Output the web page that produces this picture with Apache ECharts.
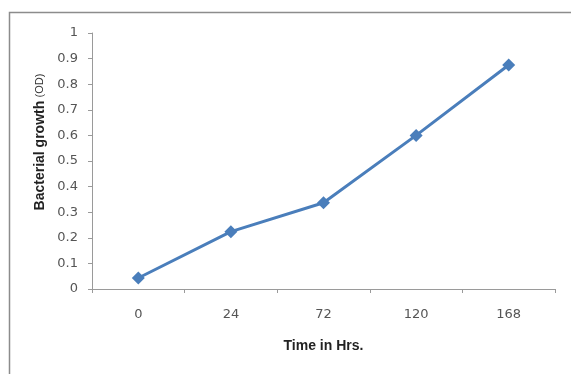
<!DOCTYPE html>
<html>
<head>
<meta charset="utf-8">
<script src="https://cdn.jsdelivr.net/npm/echarts@6/dist/echarts.min.js"></script>
<style>
  html, body { margin: 0; padding: 0; background: #fff; }
  #chart { width: 571px; height: 374px; }
</style>
</head>
<body>
<div id="chart"></div>
<script>
// Sampling times (hours) and optical density readings
const timeLabels = ['0', '24', '72', '120', '168'];
const growthOD = [0.043, 0.224, 0.337, 0.60, 0.875];
const yTicks = [0, 0.1, 0.2, 0.3, 0.4, 0.5, 0.6, 0.7, 0.8, 0.9, 1];
const yTitle = '{b|Bacterial growth} {s|(OD)}';

const chart = echarts.init(document.getElementById('chart'), null, { renderer: 'canvas' });

const option = {
  backgroundColor: '#ffffff',
  animation: false,
  graphic: [
    {
      type: 'rect',
      shape: { x: 9.5, y: 12.5, width: 580, height: 380 },
      style: { fill: 'none', stroke: '#8c8c8c', lineWidth: 1.5 },
      silent: true
    },
    {
      // vertical axis title, placed slightly above the axis middle
      type: 'text',
      x: 40,
      y: 142,
      rotation: Math.PI / 2,
      silent: true,
      style: {
        text: yTitle,
        align: 'center',
        verticalAlign: 'middle',
        rich: {
          b: { fontFamily: 'Liberation Sans', fontWeight: 'bold', fontSize: 14, fill: '#222' },
          s: { fontFamily: 'Liberation Sans', fontSize: 11, fill: '#333' }
        }
      }
    }
  ],
  grid: { left: 92, right: 16, top: 33, bottom: 85 },
  xAxis: {
    type: 'category',
    data: timeLabels,
    boundaryGap: true,
    name: 'Time in Hrs.',
    nameLocation: 'middle',
    nameGap: 50,
    nameTextStyle: { fontFamily: 'Liberation Sans', fontWeight: 'bold', fontSize: 14, color: '#222' },
    axisLine: { lineStyle: { color: '#9a9a9a', width: 1 } },
    axisTick: { show: true, length: 4, lineStyle: { color: '#9a9a9a' } },
    axisLabel: { fontFamily: 'DejaVu Sans', fontSize: 13, color: '#555', margin: 19 },
    splitLine: { show: false }
  },
  yAxis: {
    type: 'value',
    min: 0,
    max: 1,
    interval: 0.1,
    axisLine: { show: true, lineStyle: { color: '#9a9a9a', width: 1 } },
    axisTick: { show: true, length: 4, lineStyle: { color: '#9a9a9a' } },
    axisLabel: {
      fontFamily: 'DejaVu Sans', fontSize: 13, color: '#555', margin: 14,
      formatter: function (v) {
        const t = yTicks.find(function (k) { return Math.abs(k - v) < 1e-9; });
        return t === undefined ? '' : String(t);
      }
    },
    splitLine: { show: false }
  },
  series: [
    {
      type: 'line',
      data: growthOD,
      symbol: 'diamond',
      symbolSize: 13,
      lineStyle: { color: '#4a7ebb', width: 3 },
      itemStyle: { color: '#4a7ebb' }
    }
  ]
};

chart.setOption(option);
</script>
</body>
</html>
